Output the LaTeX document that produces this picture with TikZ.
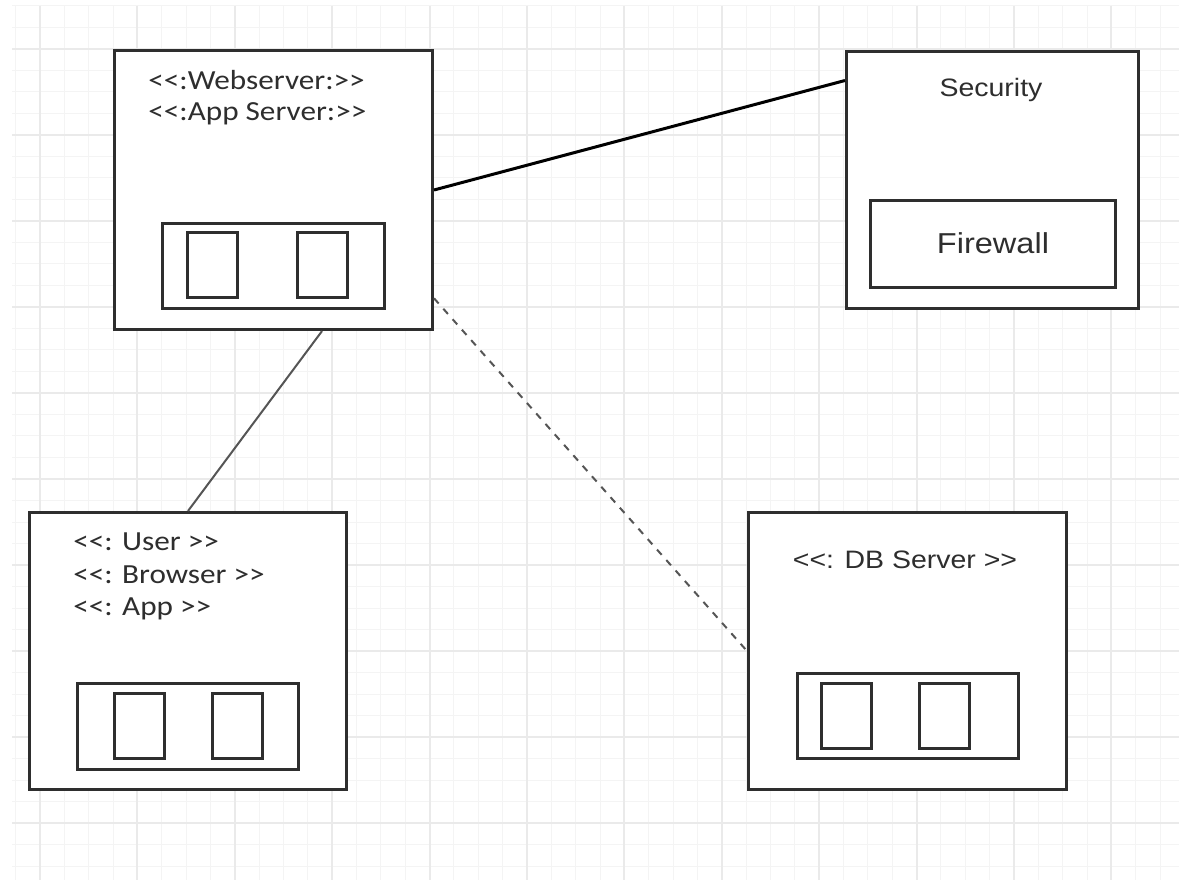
\documentclass[tikz,border=0pt]{standalone}
\usepackage{fontspec}
\newfontfamily\calfont[FakeStretch=1.13]{Carlito}
\newfontfamily\arifont[FakeStretch=1.13]{Liberation Sans}
\definecolor{gridminor}{HTML}{F4F4F4}
\definecolor{gridmajor}{HTML}{EAEAEA}
\definecolor{ink}{HTML}{2E2E2E}
\definecolor{wire}{HTML}{555555}
\begin{document}
\begin{tikzpicture}[x=0.5pt,y=-0.5pt,
  box/.style={draw=ink,line width=1.5pt,rectangle,inner sep=0pt,anchor=north west,fill=white},
  slot/.style={draw=ink,line width=1.4pt,rectangle,inner sep=0pt,anchor=north west,minimum width=25pt,minimum height=32.5pt},
  caltext/.style={font=\calfont\fontsize{13.8pt}{16pt}\selectfont,text=ink,anchor=base west,inner sep=0pt},
  aritext/.style={font=\arifont\fontsize{12.6pt}{15pt}\selectfont,text=ink,anchor=base,inner sep=0pt},
  link/.style={line width=1pt,draw=wire},
]
\useasboundingbox (0,0) rectangle (1179,882);
\fill[white] (0,0) rectangle (1179,882);

% background grid: fine lines, then the heavier ones every fourth
\foreach \i in {-1,...,46} {
  \draw[gridminor,line width=0.5pt] ({40+24.35*\i},6) -- ({40+24.35*\i},880);
}
\foreach \j in {-2,...,38} {
  \draw[gridminor,line width=0.5pt] (12,{49+21.5*\j}) -- (1179,{49+21.5*\j});
}
\foreach \i in {0,...,11} {
  \draw[gridmajor,line width=1pt] ({40+97.4*\i},6) -- ({40+97.4*\i},880);
}
\foreach \j in {0,...,9} {
  \draw[gridmajor,line width=1pt] (12,{49+86*\j}) -- (1179,{49+86*\j});
}

% web / app server node
\node[box,minimum width=159pt,minimum height=139.5pt] (web) at (113,49) {};
\node[caltext] (webA) at (148,90) {<<:Webserver:>>};
\node[caltext] (webB) at (148,121) {<<:App Server:>>};
\node[box,minimum width=111pt,minimum height=42.5pt] (webin) at (161,222) {};
\node[slot] (webs1) at (186,231) {};
\node[slot] (webs2) at (296,231) {};

% security node
\node[box,minimum width=146pt,minimum height=128.5pt] (sec) at (845,50) {};
\node[aritext] (secT) at (991,97) {Security};
\node[box,minimum width=122.5pt,minimum height=43.5pt] (fw) at (869,199) {};
\node[aritext,font=\arifont\fontsize{14.4pt}{17pt}\selectfont] (fwT) at (993,254) {Firewall};

% client node
\node[box,minimum width=158.5pt,minimum height=138.5pt] (user) at (28,511) {};
\node[caltext] (userA) at (73,550) {<<: User >>};
\node[caltext] (userB) at (73,583) {<<: Browser >>};
\node[caltext] (userC) at (73,615) {<<: App >>};
\node[box,minimum width=110.5pt,minimum height=43pt] (userin) at (76,682) {};
\node[slot] (users1) at (113,692) {};
\node[slot] (users2) at (211,692) {};

% database node
\node[box,minimum width=159pt,minimum height=138.5pt] (db) at (747,511) {};
\node[aritext] (dbT) at (905,568) {<<: DB Server >>};
\node[box,minimum width=110.5pt,minimum height=42.5pt] (dbin) at (796,672) {};
\node[slot] (dbs1) at (820,682) {};
\node[slot] (dbs2) at (918,682) {};

% connections
\draw[line width=1.5pt,black] (web.east) -- (sec.146.8);
\draw[link] (web.-71) -- (user.north);
\draw[link,dash pattern=on 3.5pt off 3.5pt] (web.-34.6) -- (db.west);
\end{tikzpicture}
\end{document}
